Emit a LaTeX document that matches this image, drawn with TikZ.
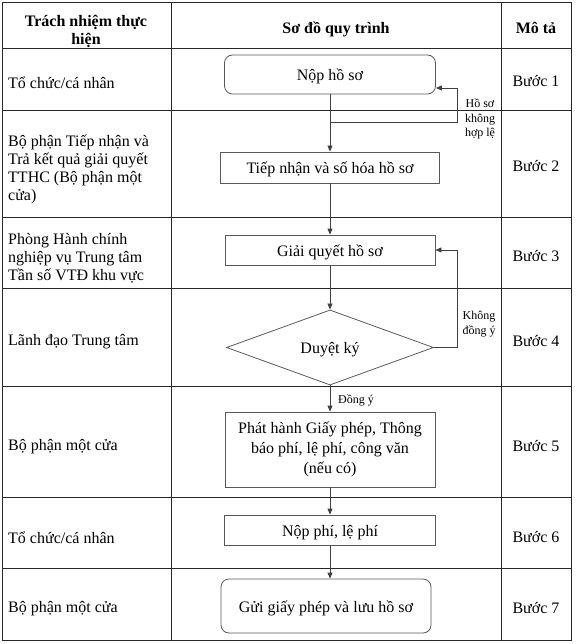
\documentclass[tikz,border=0pt]{standalone}
\usepackage{fontspec}
\setmainfont{Liberation Serif}
\usetikzlibrary{shapes.geometric,arrows.meta}
\begin{document}
\begin{tikzpicture}[x=1pt,y=-1pt,
  font=\fontsize{16}{18}\selectfont,
  grid/.style={draw=black!85, line width=0.9pt},
  procbox/.style={draw=black!65, line width=0.8pt, align=center, inner sep=2pt},
  oneline/.style={text height=14pt, text depth=2pt},
  roundbox/.style={procbox, rounded corners=8pt},
  decision/.style={draw=black!65, line width=0.8pt, diamond, inner sep=0pt, align=center, text height=14pt, text depth=2pt},
  flow/.style={draw=black!75, line width=0.8pt, -{Triangle[length=6pt,width=5pt]}},
  fbline/.style={draw=black!75, line width=0.8pt},
  smalllbl/.style={font=\fontsize{12}{14.5}\selectfont, inner sep=0pt},
  role/.style={anchor=west, align=left, inner sep=0pt},
  steplbl/.style={anchor=center, inner sep=0pt, text height=14pt, text depth=2pt},
  headlbl/.style={font=\fontsize{16}{18}\bfseries\selectfont, align=center, inner sep=0pt}
]
\useasboundingbox (0,0) rectangle (576,644);
% table
\draw[grid] (2,2) rectangle (571,640);
\draw[grid] (171,2) -- (171,640);
\draw[grid] (501,2) -- (501,640);
\foreach \yy in {48,110.5,217,288,386,497,568} \draw[grid] (2,\yy) -- (571,\yy);
% header
\node[headlbl] (h1) at (86,31) {Trách nhiệm thực\\hiện};
\node[headlbl, text height=14pt, text depth=2pt] (h2) at (336,28) {Sơ đồ quy trình};
\node[headlbl, text height=14pt, text depth=2pt] (h3) at (536,28) {Mô tả};
% roles
\node[role] (r1) at (8,83) {Tổ chức/cá nhân};
\node[role] (r2) at (8,169) {Bộ phận Tiếp nhận và\\Trả kết quả giải quyết\\TTHC (Bộ phận một\\cửa)};
\node[role] (r3) at (8,258) {Phòng Hành chính\\nghiệp vụ Trung tâm\\Tần số VTĐ khu vực};
\node[role] (r4) at (8,342) {Lãnh đạo Trung tâm};
\node[role] (r5) at (8,447) {Bộ phận một cửa};
\node[role] (r6) at (8,538) {Tổ chức/cá nhân};
\node[role] (r7) at (8,609) {Bộ phận một cửa};
% steps
\node[steplbl] (s1) at (536,81) {Bước 1};
\node[steplbl] (s2) at (536,166) {Bước 2};
\node[steplbl] (s3) at (536,255) {Bước 3};
\node[steplbl] (s4) at (536,340) {Bước 4};
\node[steplbl] (s5) at (536,445) {Bước 5};
\node[steplbl] (s6) at (536,536) {Bước 6};
\node[steplbl] (s7) at (536,607) {Bước 7};
% flow nodes
\node[roundbox, oneline, minimum width=211pt, minimum height=39pt] (n1) at (330,74.5) {Nộp hồ sơ};
\node[procbox, oneline, minimum width=219pt, minimum height=31pt] (n2) at (330,167.5) {Tiếp nhận và số hóa hồ sơ};
\node[procbox, oneline, minimum width=210pt, minimum height=30pt] (n3) at (330,250) {Giải quyết hồ sơ};
\node[decision, minimum width=207pt, minimum height=59pt] (n4) at (330,347.5) {Duyệt ký};
\node[procbox, minimum width=210pt, minimum height=75pt, font=\fontsize{16}{20}\selectfont] (n5) at (330,449.5) {Phát hành Giấy phép, Thông\\báo phí, lệ phí, công văn\\(nếu có)};
\node[procbox, oneline, minimum width=211pt, minimum height=30pt] (n6) at (330,530) {Nộp phí, lệ phí};
\node[roundbox, oneline, minimum width=210pt, minimum height=54pt] (n7) at (326,606) {Gửi giấy phép và lưu hồ sơ};
% connectors
\draw[flow] (n1.south) -- (n2.north);
\draw[flow] (n2.south) -- (n3.north);
\draw[flow] (n3.south) -- (n4.north);
\draw[flow] (n4.south) -- (n5.north);
\draw[flow] (n5.south) -- (n6.south |- n6.north);
\draw[flow] (n6.south) -- (n6.south |- n7.north);
% feedback loops
\coordinate (j1) at (330,122);
\coordinate (k1) at (457,88);
\draw[fbline] (j1) -| (k1);
\draw[flow] (k1) -- (k1 -| n1.east);
\coordinate (k2) at (457,250);
\draw[fbline] (n4.east) -| (k2);
\draw[flow] (k2) -- (n3.east);
% labels
\node[smalllbl, align=center] (l1) at (480,119) {Hồ sơ\\không\\hợp lệ};
\node[smalllbl, align=center] (l2) at (479,324) {Không\\đồng ý};
\node[smalllbl, anchor=west] (l3) at (338,400) {Đồng ý};
\end{tikzpicture}
\end{document}
